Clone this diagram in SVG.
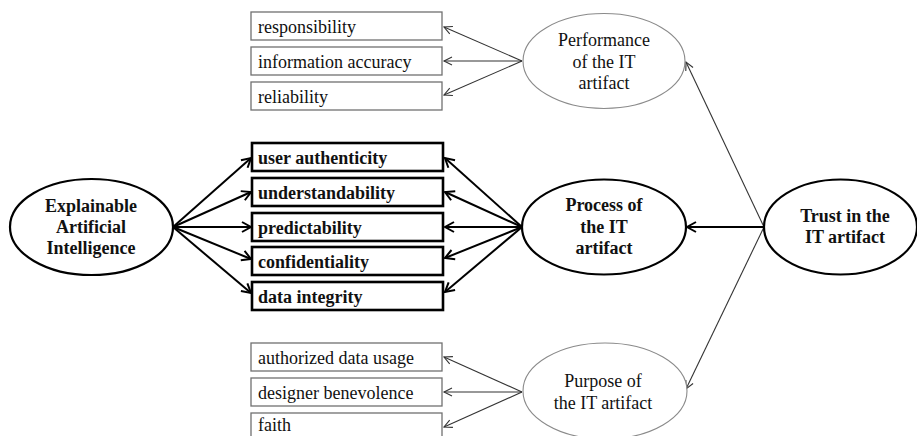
<svg xmlns="http://www.w3.org/2000/svg" width="917" height="436" viewBox="0 0 917 436">
<style>
text{font-family:"Liberation Serif","Times New Roman",serif;font-size:18px;fill:#111}
.b{font-weight:bold}
.c{text-anchor:middle}
.thinbox{fill:#fff;stroke:#707070;stroke-width:1.3}
.boldbox{fill:#fff;stroke:#000;stroke-width:2.6}
.thinell{fill:#fff;stroke:#8a8a8a;stroke-width:1.1}
.boldell{fill:#fff;stroke:#000;stroke-width:2.2}
.thick{stroke:#000;stroke-width:2;fill:none;marker-end:url(#ab)}
.thin{stroke:#333;stroke-width:1.1;fill:none;marker-end:url(#at)}
</style>
<defs>
<marker id="ab" markerUnits="userSpaceOnUse" viewBox="-12 -7 14 14" markerWidth="14" markerHeight="14" refX="0" refY="0" orient="auto">
<path d="M-9,-5 L0,0 L-9,5" fill="none" stroke="#000" stroke-width="2"/>
</marker>
<marker id="at" markerUnits="userSpaceOnUse" viewBox="-12 -7 14 14" markerWidth="14" markerHeight="14" refX="0" refY="0" orient="auto">
<path d="M-8,-4 L0,0 L-8,4" fill="none" stroke="#333" stroke-width="1.1"/>
</marker>
</defs>
<g id="connectors">
<line class="thin" x1="522" y1="61" x2="444" y2="27"/>
<line class="thin" x1="522" y1="61" x2="444" y2="61"/>
<line class="thin" x1="522" y1="61" x2="444" y2="95"/>
<line class="thin" x1="522" y1="392" x2="444" y2="357"/>
<line class="thin" x1="522" y1="392" x2="444" y2="392"/>
<line class="thin" x1="522" y1="392" x2="444" y2="427"/>
<line class="thin" x1="764" y1="227" x2="686" y2="62"/>
<line class="thin" x1="764" y1="227" x2="686" y2="389"/>
<line class="thick" x1="764" y1="227" x2="687" y2="227"/>
<line class="thick" x1="173" y1="227" x2="251" y2="158"/>
<line class="thick" x1="173" y1="227" x2="251" y2="192"/>
<line class="thick" x1="173" y1="227" x2="251" y2="227"/>
<line class="thick" x1="173" y1="227" x2="251" y2="259"/>
<line class="thick" x1="173" y1="227" x2="251" y2="293"/>
<line class="thick" x1="522" y1="227" x2="445" y2="158"/>
<line class="thick" x1="522" y1="227" x2="445" y2="192"/>
<line class="thick" x1="522" y1="227" x2="445" y2="227"/>
<line class="thick" x1="522" y1="227" x2="445" y2="258"/>
<line class="thick" x1="522" y1="227" x2="445" y2="292"/>
</g>
<g id="responsibility"><rect class="thinbox" x="251" y="12" width="191" height="28"/><text x="258" y="33">responsibility</text></g>
<g id="information-accuracy"><rect class="thinbox" x="251" y="47" width="191" height="28"/><text x="258" y="68">information accuracy</text></g>
<g id="reliability"><rect class="thinbox" x="251" y="82" width="191" height="28"/><text x="258" y="103">reliability</text></g>
<g id="performance"><ellipse class="thinell" cx="604" cy="61" rx="81" ry="47.5"/><text class="c" x="604" y="46">Performance</text><text class="c" x="604" y="68">of the IT</text><text class="c" x="604" y="89">artifact</text></g>
<g id="user-authenticity"><rect class="boldbox" x="252" y="143" width="191" height="28"/><text class="b" x="258" y="164">user authenticity</text></g>
<g id="understandability"><rect class="boldbox" x="252" y="178" width="191" height="28"/><text class="b" x="258" y="199">understandability</text></g>
<g id="predictability"><rect class="boldbox" x="252" y="213" width="191" height="28"/><text class="b" x="258" y="234">predictability</text></g>
<g id="confidentiality"><rect class="boldbox" x="252" y="247" width="191" height="28"/><text class="b" x="258" y="268">confidentiality</text></g>
<g id="data-integrity"><rect class="boldbox" x="252" y="282" width="191" height="28"/><text class="b" x="258" y="303">data integrity</text></g>
<g id="xai"><ellipse class="boldell" cx="91.5" cy="227" rx="81.5" ry="48"/><text class="b c" x="91" y="212">Explainable</text><text class="b c" x="91" y="233">Artificial</text><text class="b c" x="91" y="254">Intelligence</text></g>
<g id="process"><ellipse class="boldell" cx="604" cy="227" rx="82" ry="47.5"/><text class="b c" x="604" y="211">Process of</text><text class="b c" x="604" y="233">the IT</text><text class="b c" x="604" y="254">artifact</text></g>
<g id="trust"><ellipse class="boldell" cx="840.5" cy="227" rx="76.5" ry="47.5"/><text class="b c" x="845" y="222">Trust in the</text><text class="b c" x="845" y="243">IT artifact</text></g>
<g id="authorized-data-usage"><rect class="thinbox" x="251" y="343" width="191" height="28"/><text x="258" y="364">authorized data usage</text></g>
<g id="designer-benevolence"><rect class="thinbox" x="251" y="378" width="191" height="28"/><text x="258" y="399">designer benevolence</text></g>
<g id="faith"><rect class="thinbox" x="251" y="413" width="191" height="28"/><text x="258" y="431">faith</text></g>
<g id="purpose"><ellipse class="thinell" cx="605" cy="391" rx="82" ry="48"/><text class="c" x="603" y="387">Purpose of</text><text class="c" x="603" y="409">the IT artifact</text></g>
</svg>
